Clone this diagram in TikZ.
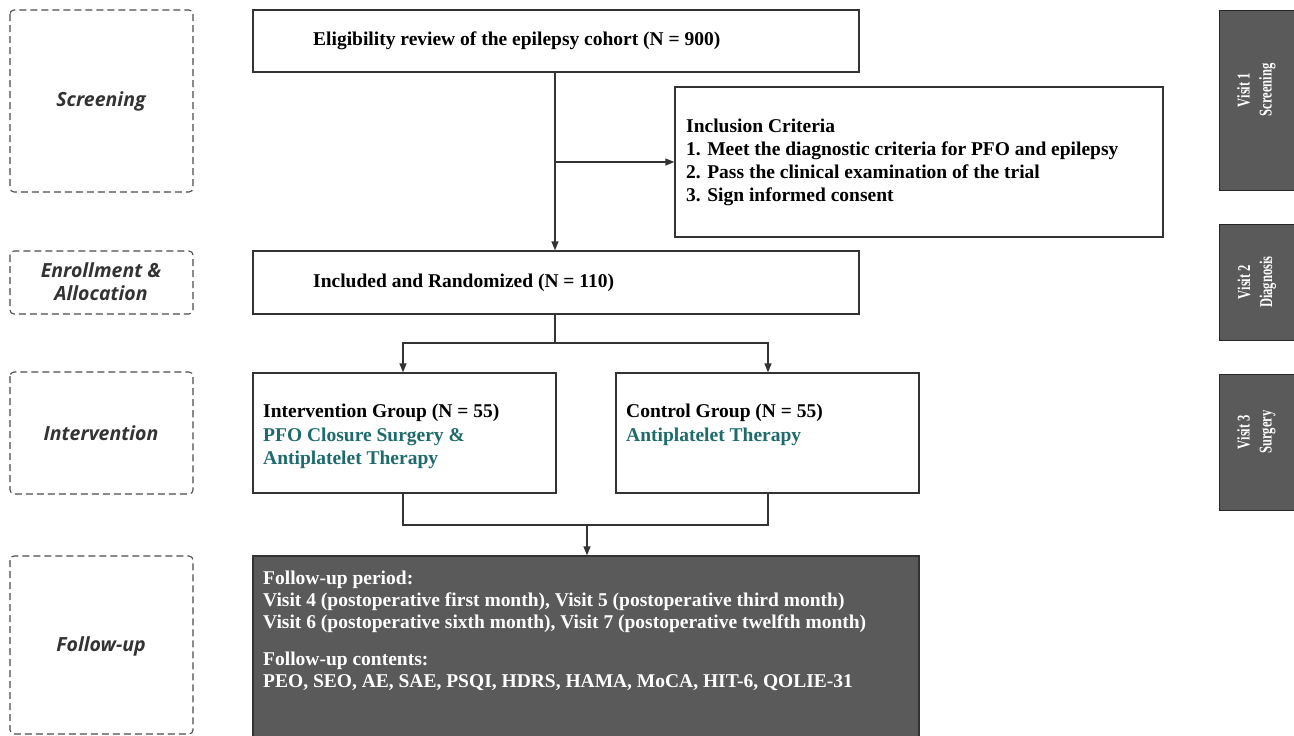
\documentclass[tikz,border=0pt]{standalone}
\usepackage{fontspec}
\setmainfont{Liberation Serif}
\newfontfamily\labfont{Open Sans}
\usetikzlibrary{arrows.meta}
\definecolor{darkfill}{HTML}{5A5A5A}
\definecolor{tealtxt}{HTML}{1F6B6B}
\definecolor{lablc}{HTML}{333333}
\tikzset{
  box/.style={draw=black!80, line width=1.3pt, fill=white, minimum width=#1, inner sep=0pt},
  txt/.style={font=\fontsize{19.5}{23.5}\selectfont\bfseries, align=left, inner sep=0pt, anchor=north west},
  phase/.style={draw=black!70, line width=1.1pt, dash pattern=on 7pt off 4pt, rounded corners=4pt, inner sep=0pt},
  phlab/.style={font=\labfont\fontsize{19.5}{23}\selectfont\bfseries\itshape, text=lablc, align=center},
  visit/.style={draw=black!85, line width=1pt, fill=darkfill, inner sep=0pt},
  vlab/.style={font=\fontsize{18}{23}\selectfont\bfseries, text=white, align=center, rotate=90},
  conn/.style={draw=black!80, line width=1.3pt},
  arr/.style={conn, -{Triangle[length=9pt,width=7pt]}}
}
\newcommand{\vtext}[2]{\scalebox{0.7}[1]{\begin{tabular}{@{}c@{}}#1\\[-1pt]#2\end{tabular}}}
\begin{document}
\begin{tikzpicture}[x=1pt,y=-1pt]
\useasboundingbox (0,0) rectangle (1294,736);
% phase boxes
\draw[phase] (10,10) rectangle (193,192);
\node[phlab] (lscr) at (101,101) {Screening};
\draw[phase] (10,251) rectangle (193,314);
\node[phlab] (lenr) at (101,282) {Enrollment \&\\Allocation};
\draw[phase] (10,372) rectangle (193,494);
\node[phlab] (lint) at (101,433) {Intervention};
\draw[phase] (10,556) rectangle (193,734);
\node[phlab] (lfol) at (101,646) {Follow-up};
% main boxes
\node[box=606pt, minimum height=62pt] (elig) at (556,41) {};
\node[txt, anchor=west] (eligt) at (313,41) {Eligibility review of the epilepsy cohort (N = 900)};
\node[box=488pt, minimum height=150pt] (incl) at (919,162) {};
\node[txt, anchor=west, font=\fontsize{19.5}{23}\selectfont\bfseries] (inclt) at (686,162) {Inclusion Criteria\\1. Meet the diagnostic criteria for PFO and epilepsy\\2. Pass the clinical examination of the trial\\3. Sign informed consent};
\node[box=606pt, minimum height=63pt] (rand) at (556,282.5) {};
\node[txt, anchor=west] (randt) at (313,282.5) {Included and Randomized (N = 110)};
\node[box=303pt, minimum height=120pt] (intv) at (404.5,433) {};
\node[txt] (intvt) at (263,404) {Intervention Group (N = 55)\\\textcolor{tealtxt}{PFO Closure Surgery \&}\\\textcolor{tealtxt}{Antiplatelet Therapy}};
\node[box=303pt, minimum height=120pt] (ctrl) at (767.5,433) {};
\node[txt] (ctrlt) at (626,404) {Control Group (N = 55)\\\textcolor{tealtxt}{Antiplatelet Therapy}};
\node[box=666pt, minimum height=182pt, fill=darkfill] (fol) at (586,647) {};
\node[txt, text=white, font=\fontsize{19.5}{22}\selectfont\bfseries] (folt) at (263,571) {Follow-up period:\\Visit 4 (postoperative first month), Visit 5 (postoperative third month)\\Visit 6 (postoperative sixth month), Visit 7 (postoperative twelfth month)\\[15pt]Follow-up contents:\\PEO, SEO, AE, SAE, PSQI, HDRS, HAMA, MoCA, HIT-6, QOLIE-31};
% visit boxes
\node[visit, minimum width=75pt, minimum height=180pt] (v1) at (1256.5,100) {};
\node[vlab] (v1t) at (1256,90) {\vtext{Visit 1}{Screening}};
\node[visit, minimum width=75pt, minimum height=116pt] (v2) at (1256.5,282) {};
\node[vlab] (v2t) at (v2.center) {\vtext{Visit 2}{Diagnosis}};
\node[visit, minimum width=75pt, minimum height=136pt] (v3) at (1256.5,442) {};
\node[vlab] (v3t) at (1256,432) {\vtext{Visit 3}{Surgery}};
% connectors
\coordinate (br) at (555,162);
\draw[arr] (elig.south -| br) -- (rand.north -| br);
\draw[arr] (br) -- (incl.west);
\coordinate (split) at (555,343);
\draw[conn] (rand.south -| split) -- (split);
\draw[arr] (split) -| (intv.north -| 403,0);
\draw[arr] (split) -| (ctrl.north -| 768,0);
\coordinate (join) at (587,525);
\draw[conn] (intv.south -| 403,0) |- (join);
\draw[conn] (ctrl.south -| 768,0) |- (join);
\draw[arr] (join) -- (fol.north -| join);
\end{tikzpicture}
\end{document}
